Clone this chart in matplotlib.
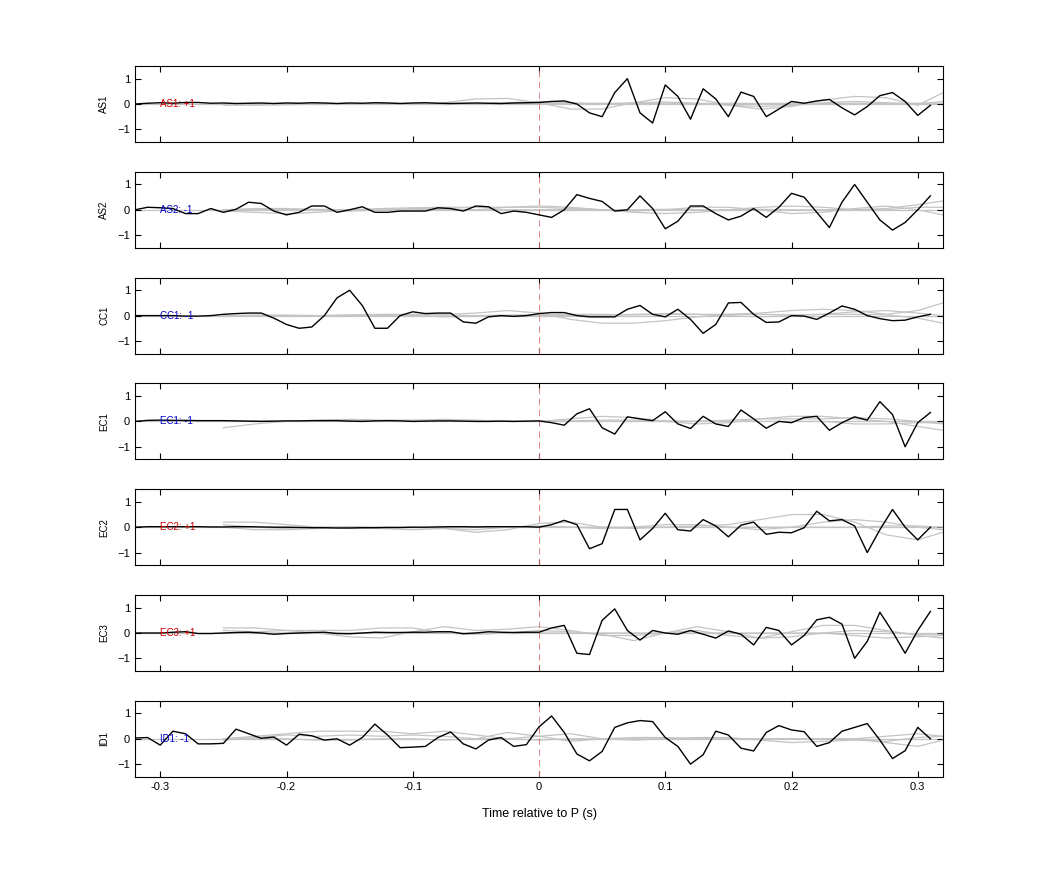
import numpy as np
import matplotlib
matplotlib.use("Agg")
import matplotlib.pyplot as plt

plt.rcParams['font.family'] = ['Liberation Sans', 'DejaVu Sans']

channels = ["AS1", "AS2", "CC1", "EC1", "EC2", "EC3", "ID1"]
labels = ["AS1: +1", "AS2: -1", "CC1: -1", "EC1: -1", "EC2: +1", "EC3: +1", "ID1: -1"]
label_colors = ["#d00000", "#0000cc", "#0000cc", "#0000cc", "#d00000", "#d00000", "#0000cc"]

t = np.round(np.arange(-0.32, 0.315, 0.01), 2)  # 64 samples

pre_small = [0.0, 0.03, 0.05, 0.03, 0.06, 0.06, 0.03, 0.04, 0.02, 0.03, 0.04, 0.02, 0.04, 0.03,
             0.05, 0.04, 0.02, 0.04, 0.03, 0.05, 0.04, 0.02, 0.04, 0.05, 0.03, 0.02, 0.03, 0.04,
             0.03, 0.02, 0.04, 0.05]

as1 = pre_small + [0.06, 0.1, 0.12, 0.0, -0.35, -0.5, 0.45, 1.0, -0.35, -0.75, 0.75, 0.3,
                   -0.6, 0.6, 0.2, -0.5, 0.47, 0.3, -0.5, -0.2, 0.1, 0.03, 0.12, 0.18,
                   -0.15, -0.43, -0.1, 0.33, 0.45, 0.1, -0.45, -0.05]
as2 = [0.0, 0.1, 0.08, 0.05, -0.15, -0.15, 0.05, -0.1, 0.02, 0.3, 0.25, -0.05, -0.2, -0.1,
       0.15, 0.15, -0.1, 0.0, 0.12, -0.1, -0.1, -0.05, -0.05, -0.05, 0.08, 0.05, -0.05, 0.15,
       0.12, -0.15, -0.05, -0.1,
       -0.2, -0.3, 0.0, 0.6, 0.45, 0.33, -0.05, 0.0, 0.55, 0.05, -0.75, -0.45, 0.15, 0.15,
       -0.15, -0.4, -0.25, 0.05, -0.3, 0.1, 0.65, 0.5, -0.1, -0.7, 0.3, 1.0, 0.3, -0.4,
       -0.8, -0.5, 0.0, 0.55]
cc1 = [0.0, 0.0, 0.0, 0.0, -0.02, -0.02, 0.0, 0.05, 0.08, 0.1, 0.1, -0.1, -0.35, -0.5,
       -0.45, 0.0, 0.7, 1.0, 0.4, -0.5, -0.5, 0.0, 0.15, 0.08, 0.1, 0.1, -0.25, -0.3, -0.05,
       0.0, -0.03, 0.0,
       0.08, 0.12, 0.12, 0.0, -0.05, -0.05, -0.05, 0.25, 0.4, 0.05, -0.05, 0.25, -0.15,
       -0.7, -0.35, 0.5, 0.52, 0.05, -0.27, -0.25, 0.0, -0.02, -0.15, 0.1, 0.38, 0.25, 0.0,
       -0.12, -0.2, -0.18, -0.05, 0.05]
ec1 = [0.0, 0.04, 0.05, 0.04, 0.04, 0.03, 0.03, 0.03, 0.02, 0.01, 0.0, 0.01, 0.02, 0.02,
       0.03, 0.03, 0.03, 0.01, 0.0, 0.02, 0.03, 0.02, 0.0, 0.01, 0.02, 0.02, 0.01, 0.0,
       0.0, 0.01, 0.0, 0.01,
       0.02, -0.05, -0.15, 0.3, 0.5, -0.25, -0.5, 0.18, 0.1, 0.03, 0.38, -0.1, -0.28, 0.2,
       -0.1, -0.2, 0.45, 0.1, -0.27, 0.0, -0.05, 0.15, 0.2, -0.35, -0.05, 0.18, 0.05, 0.78,
       0.27, -1.0, -0.05, 0.35]
ec2 = [0.0, 0.02, 0.02, 0.02, 0.02, 0.02, 0.01, 0.01, 0.02, 0.02, 0.01, 0.0, 0.0, -0.01,
       -0.02, -0.02, -0.03, -0.03, -0.02, -0.02, -0.01, -0.01, 0.0, 0.0, 0.01, 0.02, 0.02,
       0.01, 0.02, 0.02, 0.02, 0.02,
       0.0, 0.1, 0.27, 0.1, -0.85, -0.65, 0.7, 0.7, -0.5, -0.05, 0.55, -0.1, -0.15, 0.3,
       0.05, -0.38, 0.08, 0.2, -0.28, -0.2, -0.22, -0.02, 0.63, 0.25, 0.3, 0.05, -1.0,
       -0.1, 0.7, 0.0, -0.5, 0.0]
ec3 = [0.0, 0.0, 0.0, 0.03, 0.05, -0.02, -0.02, 0.0, 0.02, 0.03, 0.0, -0.05, -0.02, 0.0,
       0.02, 0.03, -0.02, -0.03, 0.0, 0.03, 0.02, 0.02, 0.03, 0.03, 0.05, 0.05, -0.03,
       0.0, 0.05, 0.03, 0.02, 0.03,
       0.03, 0.2, 0.3, -0.8, -0.85, 0.5, 0.95, 0.1, -0.28, 0.1, 0.0, -0.05, 0.1, -0.05,
       -0.2, 0.08, -0.05, -0.47, 0.22, 0.1, -0.47, -0.1, 0.52, 0.62, 0.35, -1.0, -0.33,
       0.82, 0.05, -0.8, 0.1, 0.85]
id1 = [0.03, 0.05, -0.25, 0.3, 0.2, -0.2, -0.2, -0.18, 0.38, 0.2, 0.02, 0.07, -0.25,
       0.18, 0.12, -0.05, 0.0, -0.25, 0.05, 0.58, 0.15, -0.35, -0.33, -0.3, 0.05, 0.27,
       -0.2, -0.4, -0.05, 0.05, -0.3, -0.23,
       0.47, 0.9, 0.25, -0.6, -0.87, -0.5, 0.45, 0.63, 0.72, 0.68, 0.05, -0.3, -1.0, -0.63,
       0.3, 0.15, -0.37, -0.48, 0.25, 0.52, 0.35, 0.28, -0.3, -0.15, 0.3, 0.45, 0.6, -0.05,
       -0.78, -0.47, 0.45, 0.0]
black = [as1, as2, cc1, ec1, ec2, ec3, id1]

# gray reference traces (coarse samples)
tg = [-0.25, -0.225, -0.2, -0.175, -0.15, -0.125, -0.1, -0.075, -0.05, -0.025, 0.0, 0.025,
      0.05, 0.075, 0.1, 0.125, 0.15, 0.175, 0.2, 0.225, 0.25, 0.275, 0.3, 0.32]
gray = [
    [[-0.05, -0.05, -0.03, 0.0, 0.02, 0.0, -0.02, 0.05, 0.2, 0.22, 0.05, -0.2, -0.2, 0.05,
      0.25, 0.2, -0.05, -0.2, -0.1, 0.15, 0.3, 0.25, -0.05, 0.45],
     [0.0, 0.02, 0.0, -0.02, 0.0, 0.02, 0.0, -0.02, 0.0, 0.05, 0.1, 0.05, 0.0, 0.05, 0.08,
      0.03, -0.05, -0.1, -0.05, 0.05, 0.1, 0.05, 0.0, 0.1],
     [0.02, 0.0, 0.03, 0.02, 0.0, 0.03, 0.02, 0.0, 0.0, 0.02, 0.03, 0.02, 0.03, 0.02, 0.03,
      0.02, 0.03, 0.02, 0.03, 0.02, 0.03, 0.02, 0.03, 0.03]],
    [[-0.05, -0.1, -0.15, -0.1, 0.0, 0.05, 0.08, 0.1, 0.1, 0.1, 0.1, 0.05, 0.0, -0.1, -0.15,
      -0.1, 0.0, 0.1, 0.15, 0.1, 0.0, 0.05, 0.2, 0.35],
     [0.0, 0.05, 0.05, 0.0, -0.05, 0.0, 0.05, 0.05, 0.0, 0.1, 0.15, 0.1, 0.0, -0.05, 0.0,
      0.1, 0.1, 0.0, -0.15, -0.1, 0.05, 0.15, 0.0, -0.2],
     [0.0, 0.0, 0.02, 0.02, 0.0, 0.0, 0.0, 0.02, 0.0, 0.0, 0.0, 0.02, 0.0, 0.0, 0.02, 0.0,
      0.0, 0.02, 0.0, 0.0, 0.02, 0.0, 0.1, 0.1]],
    [[0.0, 0.0, -0.03, 0.0, 0.03, 0.05, 0.05, 0.05, 0.1, 0.2, 0.1, -0.15, -0.3, -0.3, -0.2,
      -0.05, 0.05, 0.1, 0.2, 0.25, 0.2, 0.05, 0.2, 0.5],
     [0.0, 0.02, 0.02, 0.0, 0.0, 0.02, 0.03, 0.02, 0.0, 0.02, 0.03, 0.05, 0.05, 0.03, 0.05,
      0.05, 0.05, 0.05, 0.03, 0.05, 0.05, 0.03, -0.1, -0.3],
     [0.0, 0.0, 0.0, 0.0, 0.0, 0.0, 0.0, -0.05, -0.02, 0.0, 0.0, 0.0, 0.0, 0.05, 0.08, 0.05,
      0.0, -0.05, 0.0, 0.05, 0.15, 0.2, 0.1, 0.0]],
    [[-0.25, -0.1, 0.0, 0.05, 0.08, 0.05, 0.05, 0.08, 0.05, 0.0, 0.0, 0.1, 0.2, 0.15, 0.0,
      -0.1, -0.05, 0.1, 0.2, 0.2, 0.1, 0.0, -0.2, -0.35],
     [0.0, 0.0, 0.0, 0.02, 0.05, 0.02, 0.0, 0.0, 0.0, 0.0, 0.0, 0.02, 0.05, 0.05, 0.02, 0.0,
      0.05, 0.1, 0.1, 0.1, 0.15, 0.1, 0.0, -0.1],
     [0.0, 0.02, 0.0, 0.0, 0.02, 0.0, 0.0, 0.02, 0.0, 0.0, 0.0, 0.0, 0.0, 0.0, 0.0, 0.0,
      0.0, 0.0, 0.0, 0.0, -0.1, -0.1, -0.05, -0.05]],
    [[0.2, 0.2, 0.1, 0.0, -0.05, -0.05, 0.0, -0.05, -0.2, -0.1, 0.15, 0.2, 0.0, -0.05, 0.0,
      0.05, 0.1, 0.3, 0.5, 0.5, 0.2, -0.3, -0.5, -0.2],
     [0.0, -0.1, -0.1, -0.05, 0.0, -0.05, -0.1, -0.05, -0.1, 0.0, 0.05, 0.0, -0.05, 0.0,
      0.1, 0.1, 0.0, -0.1, 0.0, 0.2, 0.3, 0.2, 0.0, -0.1],
     [0.1, 0.0, -0.05, 0.0, 0.02, 0.0, -0.02, 0.0, 0.0, 0.0, 0.0, 0.0, 0.0, 0.0, 0.0, 0.0,
      0.0, 0.0, 0.0, 0.0, 0.0, 0.05, 0.05, 0.0]],
    [[0.2, 0.2, 0.1, 0.0, -0.15, -0.2, 0.05, 0.25, 0.1, 0.15, 0.25, 0.1, -0.1, -0.1, 0.0,
      0.25, 0.05, -0.2, 0.05, 0.3, 0.3, 0.1, -0.1, -0.2],
     [0.1, 0.05, 0.1, 0.1, 0.1, 0.2, 0.2, 0.0, -0.05, 0.0, 0.1, 0.05, -0.05, -0.3, 0.0,
      0.1, -0.1, -0.2, -0.15, 0.0, 0.1, 0.05, -0.05, -0.05],
     [0.0, 0.0, 0.0, 0.0, 0.0, 0.0, 0.0, 0.0, 0.0, 0.0, 0.0, 0.0, 0.0, 0.0, 0.0, 0.0, 0.0,
      0.0, 0.0, 0.0, -0.1, -0.2, -0.15, -0.1]],
    [[0.0, 0.1, 0.2, 0.3, 0.3, 0.3, 0.2, 0.3, 0.15, 0.0, 0.1, 0.2, 0.0, -0.05, 0.0, 0.05,
      0.05, -0.05, -0.15, -0.1, -0.05, -0.1, 0.05, 0.1],
     [-0.05, 0.05, 0.15, 0.1, 0.15, 0.1, 0.15, 0.1, 0.0, 0.25, 0.1, -0.1, 0.0, 0.05, 0.05,
      0.0, 0.0, 0.0, 0.0, 0.0, 0.0, -0.15, -0.3, -0.05],
     [0.0, 0.0, 0.0, -0.05, -0.05, 0.0, 0.0, -0.05, 0.0, 0.0, -0.05, 0.0, 0.0, 0.0, 0.0,
      0.0, 0.0, 0.0, 0.0, 0.0, 0.0, 0.1, 0.2, 0.1]],
]

fig = plt.figure(figsize=(10.42, 8.75), dpi=100)
W, H = 1042, 875
left, right = 135 / W, 943 / W
ph = 76
for i in range(7):
    top = 66 + 105.8 * i
    ax = fig.add_axes([left, 1 - (top + ph) / H, right - left, ph / H])
    for g in gray[i]:
        ax.plot(tg, g, color="#c4c4c4", lw=0.9)
    ax.axhline(0, color="#c4c4c4", lw=0.9, zorder=1)
    ax.axvline(0, color="#e07070", lw=0.6, ls=(0, (8, 5)))
    ax.plot(t, black[i], color="black", lw=1.0)
    ax.set_xlim(-0.32, 0.32)
    ax.set_ylim(-1.5, 1.5)
    ax.set_yticks([-1, 0, 1])
    ax.set_xticks([-0.3, -0.2, -0.1, 0, 0.1, 0.2, 0.3])
    ax.tick_params(direction="in", top=True, right=True, labelsize=8, length=4)
    ax.set_ylabel(channels[i], fontsize=7, labelpad=6)
    ax.text(-0.3, 0, labels[i], color=label_colors[i], fontsize=7, va="center")
    if i < 6:
        ax.set_xticklabels([])
    else:
        ax.set_xticklabels(["-0.3", "-0.2", "-0.1", "0", "0.1", "0.2", "0.3"])
        ax.set_xlabel("Time relative to P (s)", fontsize=9, labelpad=12)

fig.savefig("out.png", dpi=100)
